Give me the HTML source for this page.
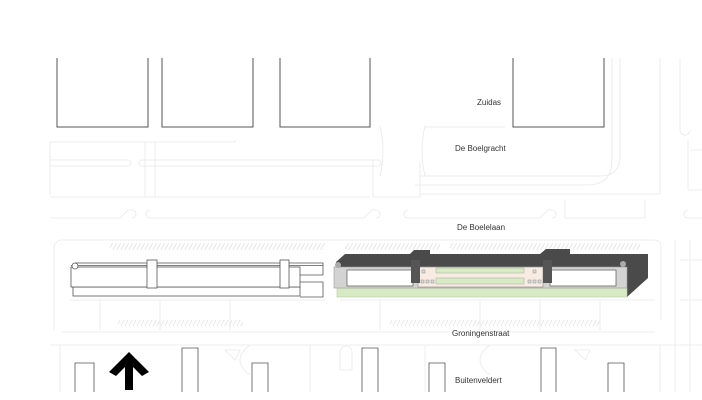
<!DOCTYPE html>
<html><head><meta charset="utf-8"><style>
html,body{margin:0;padding:0;background:#fff;}
svg{display:block;}
text{font-family:"Liberation Sans",sans-serif;font-size:8px;fill:#333;}
</style></head><body>
<svg width="702" height="400" viewBox="0 0 702 400" xmlns="http://www.w3.org/2000/svg">
<defs>
<pattern id="h" width="4" height="6" patternUnits="userSpaceOnUse" patternTransform="skewX(-30)">
<line x1="1" y1="0" x2="1" y2="6" stroke="#ddd" stroke-width="0.8"/>
</pattern>
</defs>
<g fill="none" stroke="#e9e9e9" stroke-width="0.8">
<path d="M50 142 H235 V140"/>
<path d="M50 142 V195"/>
<path d="M50 160 H128 a3 3 0 0 1 0 6 H50"/>
<path d="M142 160 H378 a3 3 0 0 1 0 6 H142 a3 3 0 0 1 0 -6"/>
<path d="M50 197 H370"/>
<path d="M145 142 V197 M155 142 V197"/>
<path d="M373 160 V197 H420 V162"/>
<path d="M380 126 q6 25 0 50 M425 126 q-6 25 0 50"/>
<path d="M425 127 H505 M420 176 H600 q20 0 20 -20 V58 M612 58 V160 q0 25 -25 25 H415"/>
<path d="M420 194 H660 V58 M680 58 V130 a5 5 0 0 0 10 0 M688 140 V190 H702 M690 150 H702"/>
<path d="M50 218 H120 l8 -8 h4 a3 3 0 0 1 0 8 M150 210 a4 4 0 0 0 0 8 H364 l8 -8 h4 a4 4 0 0 1 0 8 M408 210 a4 4 0 0 0 0 8 H540 l8 -8 h4 a4 4 0 0 1 0 8 M565 200 V218 H645 V200 M688 210 a4 4 0 0 0 0 8 H702"/>
<path d="M62 240 H655 a6 6 0 0 1 6 6 V320 M62 240 a8 8 0 0 0 -8 8 V330"/>
<path d="M70 300 H325 M340 300 H655 M100 300 V330 M160 300 V330 M230 300 V330 M380 300 V330 M480 300 V330 M540 300 V330 M600 300 V330"/>
<path d="M62 332 H655 M50 345 H690 M60 345 V392 M250 345 q-20 15 0 30 M310 345 V392 M425 345 V392 M490 345 q-20 15 0 30 M660 345 V392"/>
<path d="M225 350 l10 10 l5 -10 z M575 350 l10 10 l5 -10 z M340 352 a6 6 0 0 1 12 0 V370 H340 Z"/>
<path d="M675 240 V392 M690 240 V392 M680 260 H702 M680 300 H702 M680 345 H702"/>
</g>
<rect x="110" y="243" width="215" height="7" fill="url(#h)"/>
<rect x="345" y="243" width="95" height="7" fill="url(#h)"/>
<rect x="450" y="243" width="190" height="7" fill="url(#h)"/>
<rect x="118" y="320" width="125" height="6" fill="url(#h)"/>
<rect x="390" y="320" width="210" height="6" fill="url(#h)"/>
<g fill="#fff" stroke="#555" stroke-width="1">
<path d="M57 58 V127 H148 V58"/>
<path d="M162 58 V127 H253 V58"/>
<path d="M280 58 V127 H370 V58"/>
<path d="M513 58 V127 H604 V58"/>
</g>
<g fill="#fff" stroke="#555" stroke-width="0.8">
<rect x="73" y="287" width="227" height="9"/>
<rect x="71" y="267" width="229" height="20"/>
<path d="M71 265.5 H323 M75 263 H300" fill="none"/>
<path d="M300 263 H323 V275 H300 M300 282 H323 V297 H300" fill="none"/>
<circle cx="75" cy="266" r="3"/>
<rect x="147" y="260" width="10" height="28"/>
<rect x="280" y="260" width="9" height="28"/>
</g>
<polygon points="336,262 345,254 410,254 414,250 430,250 430,254 540,254 546,249 570,249 570,254 648,254 648,278 627,297 627,267 336,267" fill="#4a4a4a"/>
<rect x="337" y="288" width="290" height="9" fill="#d8eac4" stroke="#b8c8a8" stroke-width="0.6"/>
<rect x="334" y="267" width="293" height="21" fill="#d3d3d3" stroke="#999" stroke-width="0.6"/>
<rect x="347" y="270" width="66" height="16" fill="#fff" stroke="#666" stroke-width="0.8"/>
<rect x="550" y="270" width="66" height="16" fill="#fff" stroke="#666" stroke-width="0.8"/>
<circle cx="338" cy="265" r="3" fill="#aaa"/>
<circle cx="623" cy="264" r="3" fill="#aaa"/>
<rect x="418" y="267" width="125" height="20" fill="#f7ebe2" stroke="#888" stroke-width="0.6"/>
<rect x="436" y="268" width="88" height="5" fill="#d8eac4" stroke="#999" stroke-width="0.4"/>
<rect x="436" y="278" width="88" height="6" fill="#d8eac4" stroke="#999" stroke-width="0.4"/>
<g fill="#ddd" stroke="#777" stroke-width="0.4">
<rect x="421" y="280" width="3" height="3"/><rect x="426" y="280" width="3" height="3"/><rect x="431" y="280" width="3" height="3"/>
<rect x="528" y="280" width="3" height="3"/><rect x="533" y="280" width="3" height="3"/><rect x="538" y="280" width="3" height="3"/>
<rect x="422" y="270" width="3" height="3"/><rect x="533" y="270" width="3" height="3"/>
</g>
<rect x="411" y="260" width="9" height="23" fill="#555"/>
<rect x="543" y="260" width="9" height="23" fill="#555"/>
<g fill="#fff" stroke="#555" stroke-width="0.8">
<path d="M75 392 V363 H94 V392"/>
<path d="M182 392 V348 H198 V392"/>
<path d="M252 392 V363 H268 V392"/>
<path d="M362 392 V348 H378 V392"/>
<path d="M429 392 V363 H445 V392"/>
<path d="M541 392 V348 H556 V392"/>
<path d="M608 392 V363 H624 V392"/>
</g>
<polygon points="129,352 149,372 142,376 133,367 133,390 125,390 125,367 116,376 109,372" fill="#000"/>
<text x="477" y="105">Zuidas</text>
<text x="455" y="151">De Boelgracht</text>
<text x="457" y="230">De Boelelaan</text>
<text x="452" y="336">Groningenstraat</text>
<text x="455" y="383">Buitenveldert</text>
</svg>
</body></html>
